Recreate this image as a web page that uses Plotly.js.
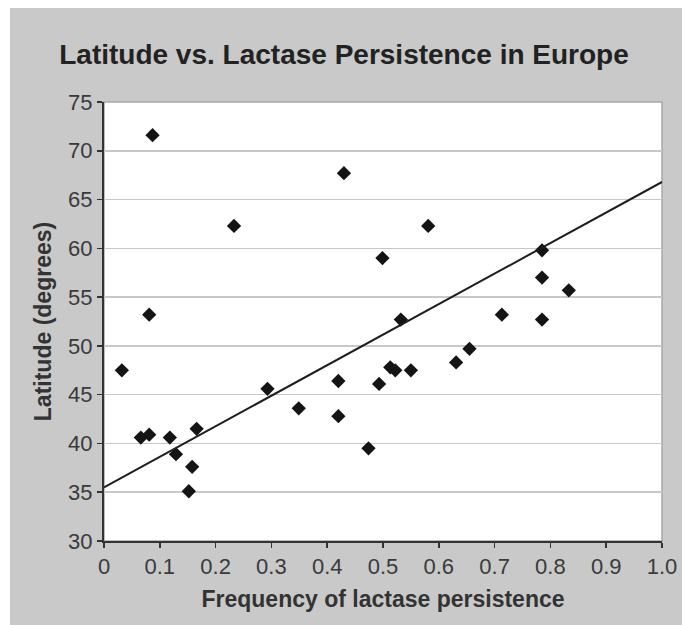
<!DOCTYPE html>
<html>
<head>
<meta charset="utf-8">
<script src="https://cdn.plot.ly/plotly-3.0.1.min.js"></script>
<style>
  html, body { margin: 0; padding: 0; background: #ffffff; }
  #chart { position: absolute; left: 10px; top: 8px; width: 672px; height: 617px; }
</style>
</head>
<body>
<div id="chart"></div>
<script>
// Frequency of lactase persistence (x) and latitude in degrees (y)
var lactaseFreq = [0.032, 0.066, 0.081, 0.081, 0.087, 0.118, 0.129, 0.152, 0.158, 0.166,
                   0.233, 0.293, 0.349, 0.420, 0.420, 0.430, 0.474, 0.493, 0.499, 0.513,
                   0.522, 0.532, 0.550, 0.581, 0.631, 0.655, 0.713, 0.785, 0.785, 0.785, 0.833];
var latitude    = [47.5, 40.6, 40.9, 53.2, 71.6, 40.6, 38.9, 35.1, 37.6, 41.5,
                   62.3, 45.6, 43.6, 46.4, 42.8, 67.7, 39.5, 46.1, 59.0, 47.8,
                   47.5, 52.7, 47.5, 62.3, 48.3, 49.7, 53.2, 59.8, 57.0, 52.7, 55.7];
// Linear trend line end points
var trendX = [0, 1];
var trendY = [35.5, 66.8];

var xTickVals = [0, 0.1, 0.2, 0.3, 0.4, 0.5, 0.6, 0.7, 0.8, 0.9, 1.0];
var xTickText = ['0', '0.1', '0.2', '0.3', '0.4', '0.5', '0.6', '0.7', '0.8', '0.9', '1.0'];
var yTickVals = [30, 35, 40, 45, 50, 55, 60, 65, 70, 75];
var yTickText = ['30', '35', '40', '45', '50', '55', '60', '65', '70', '75'];

var traces = [
  {
    x: lactaseFreq, y: latitude, type: 'scatter', mode: 'markers',
    marker: { symbol: 'diamond', size: 11, color: '#141414' },
    hoverinfo: 'x+y', showlegend: false
  },
  {
    x: trendX, y: trendY, type: 'scatter', mode: 'lines',
    line: { color: '#1e1e1e', width: 2 },
    hoverinfo: 'skip', showlegend: false, cliponaxis: true
  }
];

var fontFam = '"Liberation Sans", Arial, Helvetica, sans-serif';

var layout = {
  width: 672, height: 617,
  paper_bgcolor: '#c9c9c9',
  plot_bgcolor: '#ffffff',
  margin: { l: 94, r: 20, t: 94, b: 84 },
  font: { family: fontFam, color: '#333333' },
  title: {
    text: '<b>Latitude vs. Lactase Persistence in Europe</b>',
    font: { family: fontFam, size: 28, color: '#222222' },
    x: 0.497, xref: 'container', xanchor: 'center',
    y: 1 - 46 / 617, yref: 'container', yanchor: 'middle'
  },
  xaxis: {
    range: [0, 1], tickvals: xTickVals, ticktext: xTickText,
    showgrid: false, zeroline: false,
    showline: true, linecolor: '#333333', linewidth: 2,
    ticks: 'outside', ticklen: 5, tickwidth: 1.5, tickcolor: '#333333',
    tickfont: { family: fontFam, size: 22, color: '#3a3a3a' },
    title: { text: '<b>Frequency of lactase persistence</b>', font: { family: fontFam, size: 23, color: '#333333' }, standoff: 12 },
    fixedrange: true
  },
  yaxis: {
    range: [30, 75], tickvals: yTickVals, ticktext: yTickText,
    showgrid: true, gridcolor: '#c8c8c8', gridwidth: 1.5, zeroline: false,
    showline: true, linecolor: '#333333', linewidth: 2,
    ticks: 'outside', ticklen: 5, tickwidth: 1.5, tickcolor: '#333333',
    tickfont: { family: fontFam, size: 22, color: '#3a3a3a' },
    title: { text: '<b>Latitude (degrees)</b>', font: { family: fontFam, size: 23, color: '#333333' }, standoff: 10 },
    fixedrange: true
  },
  shapes: [
    { type: 'rect', xref: 'paper', yref: 'paper', x0: 0, x1: 1, y0: 0, y1: 1,
      line: { color: '#a8a8a8', width: 1.5 }, layer: 'below' }
  ]
};

Plotly.newPlot('chart', traces, layout, { displayModeBar: false, staticPlot: true });
</script>
</body>
</html>
